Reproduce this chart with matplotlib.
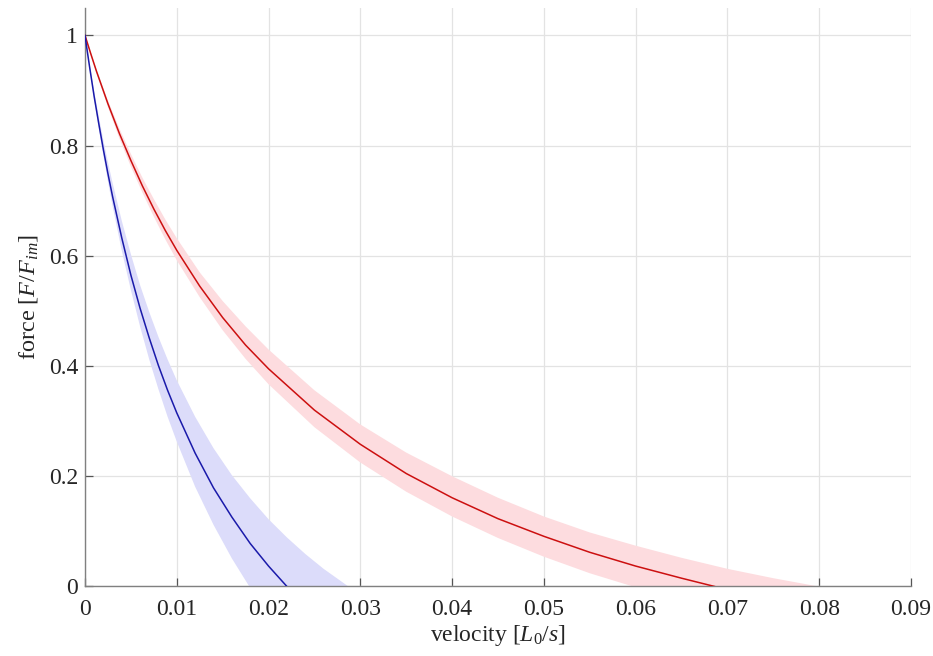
import matplotlib
matplotlib.use("Agg")
import matplotlib.pyplot as plt
import numpy as np

# force-velocity curves (velocity in L0/s, force in F/Fim)
red_v = [0, 0.000625, 0.00125, 0.0025, 0.00375, 0.005, 0.00625, 0.0075, 0.00875, 0.01,
         0.0125, 0.015, 0.0175, 0.02, 0.025, 0.03, 0.035, 0.04, 0.045, 0.05, 0.055,
         0.06, 0.065, 0.0686]
red_f = [1, 0.967, 0.935, 0.876, 0.822, 0.773, 0.727, 0.685, 0.646, 0.610,
         0.545, 0.488, 0.438, 0.395, 0.320, 0.258, 0.205, 0.161, 0.123, 0.091, 0.062,
         0.037, 0.015, 0]

red_hi_v = [0, 0.000625, 0.00125, 0.0025, 0.00375, 0.005, 0.00625, 0.0075, 0.00875, 0.01,
            0.0125, 0.015, 0.0175, 0.02, 0.025, 0.03, 0.035, 0.04, 0.045, 0.05, 0.055,
            0.06, 0.065, 0.07, 0.075, 0.0799]
red_hi_f = [1, 0.969, 0.938, 0.882, 0.831, 0.785, 0.742, 0.703, 0.666, 0.632,
            0.570, 0.518, 0.472, 0.430, 0.356, 0.294, 0.243, 0.200, 0.161, 0.127, 0.098,
            0.074, 0.052, 0.032, 0.015, 0]

red_lo_v = [0, 0.000625, 0.00125, 0.0025, 0.00375, 0.005, 0.00625, 0.0075, 0.00875, 0.01,
            0.0125, 0.015, 0.0175, 0.02, 0.025, 0.03, 0.035, 0.04, 0.045, 0.05, 0.055, 0.0597]
red_lo_f = [1, 0.965, 0.932, 0.870, 0.813, 0.762, 0.715, 0.671, 0.630, 0.592,
            0.525, 0.465, 0.413, 0.367, 0.289, 0.225, 0.172, 0.127, 0.088, 0.054, 0.024, 0]

blue_v = [0, 0.00025, 0.0005, 0.001, 0.0015, 0.002, 0.0025, 0.003, 0.004, 0.005, 0.006,
          0.007, 0.008, 0.009, 0.01, 0.012, 0.014, 0.016, 0.018, 0.02, 0.022]
blue_f = [1, 0.971, 0.943, 0.889, 0.840, 0.793, 0.749, 0.708, 0.633, 0.565, 0.505,
          0.451, 0.401, 0.356, 0.315, 0.242, 0.179, 0.126, 0.078, 0.037, 0]

blue_hi_v = [0, 0.00025, 0.0005, 0.001, 0.0015, 0.002, 0.0025, 0.003, 0.004, 0.005, 0.006,
             0.007, 0.008, 0.009, 0.01, 0.012, 0.014, 0.016, 0.018, 0.02, 0.022, 0.024,
             0.026, 0.0287]
blue_hi_f = [1, 0.974, 0.948, 0.899, 0.853, 0.810, 0.770, 0.733, 0.664, 0.603, 0.547,
             0.498, 0.453, 0.412, 0.374, 0.308, 0.251, 0.202, 0.160, 0.122, 0.089, 0.059,
             0.032, 0]

blue_lo_v = [0, 0.00025, 0.0005, 0.001, 0.0015, 0.002, 0.0025, 0.003, 0.004, 0.005, 0.006,
             0.007, 0.008, 0.009, 0.01, 0.012, 0.014, 0.016, 0.0179]
blue_lo_f = [1, 0.969, 0.940, 0.884, 0.831, 0.782, 0.735, 0.691, 0.610, 0.538, 0.472,
             0.412, 0.358, 0.308, 0.263, 0.181, 0.112, 0.051, 0]

x_ticks = [0, 0.01, 0.02, 0.03, 0.04, 0.05, 0.06, 0.07, 0.08, 0.09]
x_ticklabels = ["0", "0.01", "0.02", "0.03", "0.04", "0.05", "0.06", "0.07", "0.08", "0.09"]
y_ticks = [0, 0.2, 0.4, 0.6, 0.8, 1]
y_ticklabels = ["0", "0.2", "0.4", "0.6", "0.8", "1"]

plt.rcParams['font.family'] = ['Liberation Serif', 'DejaVu Serif']
plt.rcParams['mathtext.fontset'] = 'custom'
plt.rcParams['mathtext.rm'] = 'Liberation Serif'
plt.rcParams['mathtext.it'] = 'Liberation Serif:italic'


def band(ax, hi_v, hi_f, lo_v, lo_f, color):
    # closed polygon: upper bound out, lower bound back
    xs = np.concatenate([hi_v, lo_v[::-1]])
    ys = np.concatenate([hi_f, lo_f[::-1]])
    ax.fill(xs, ys, color=color, linewidth=0, zorder=1)


fig = plt.figure(figsize=(9.33, 6.56), dpi=100)
ax = fig.add_axes([0.0911, 0.106, 0.8853, 0.882])

band(ax, red_hi_v, red_hi_f, red_lo_v, red_lo_f, '#fddcdf')
band(ax, blue_hi_v, blue_hi_f, blue_lo_v, blue_lo_f, '#dcdcfa')
ax.plot(red_v, red_f, color='#cc1010', lw=1.1, zorder=3)
ax.plot(blue_v, blue_f, color='#1a1aaa', lw=1.1, zorder=3)

ax.set_xlim(0, 0.09)
ax.set_ylim(0, 1.05)
ax.set_xticks(x_ticks)
ax.set_xticklabels(x_ticklabels)
ax.set_yticks(y_ticks)
ax.set_yticklabels(y_ticklabels)

ax.grid(True, color='#e3e3e3', lw=0.9)
ax.set_axisbelow(True)
for side in ['top', 'right']:
    ax.spines[side].set_visible(False)
for side in ['left', 'bottom']:
    ax.spines[side].set_color('#808080')
    ax.spines[side].set_linewidth(1.0)
ax.tick_params(direction='in', length=6, width=0.9, color='#555555',
               labelsize=17, labelcolor='#262626')
ax.tick_params(axis='x', pad=9)
ax.tick_params(axis='y', pad=5)

ax.set_xlabel(r'velocity [$L_0/s$]', fontsize=17, color='#262626', labelpad=2)
ax.set_ylabel(r'force [$F/F_{im}$]', fontsize=17.5, color='#262626', labelpad=6)

fig.savefig('out.png', dpi=100)
